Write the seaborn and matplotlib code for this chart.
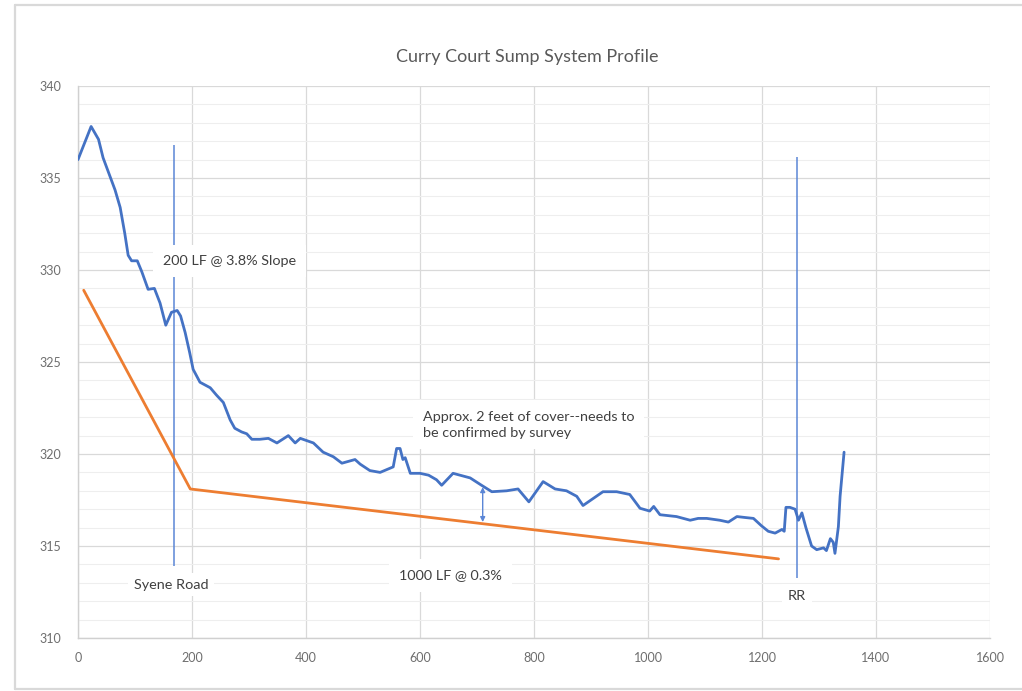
import matplotlib
matplotlib.use("Agg")
import matplotlib.pyplot as plt
from matplotlib.lines import Line2D
import numpy as np
import pandas as pd
import seaborn as sns

# Ground profile along the alignment (station in feet, elevation in feet)
station = [0, 23, 36, 44, 65, 74, 82, 88, 94, 104, 112, 123, 134, 144, 154, 164, 174, 180,
           188, 196, 202, 214, 232, 243, 255, 267, 275, 287, 296, 305, 319, 334, 349, 369,
           381, 390, 413, 430, 448, 463, 486, 495, 512, 530, 553, 559, 565, 570, 574, 583,
           600, 615, 629, 638, 658, 688, 708, 726, 752, 772, 791, 816, 837, 857, 875, 886,
           921, 945, 968, 986, 1003, 1010, 1021, 1050, 1074, 1088, 1103, 1126, 1141, 1156,
           1170, 1185, 1199, 1211, 1223, 1235, 1239, 1242, 1249, 1258, 1264, 1270, 1277,
           1287, 1296, 1308, 1313, 1320, 1325, 1328, 1334, 1337, 1344]
ground = [336.0, 337.8, 337.1, 336.1, 334.35, 333.4, 332.0, 330.8, 330.5, 330.5, 329.9,
          328.95, 329.0, 328.2, 327.0, 327.7, 327.8, 327.5, 326.6, 325.5, 324.6, 323.9,
          323.6, 323.2, 322.8, 321.85, 321.4, 321.2, 321.1, 320.8, 320.8, 320.85, 320.6,
          321.0, 320.6, 320.85, 320.6, 320.1, 319.85, 319.5, 319.7, 319.45, 319.1, 319.0,
          319.3, 320.3, 320.3, 319.7, 319.8, 318.95, 318.95, 318.85, 318.6, 318.3, 318.95,
          318.7, 318.3, 317.95, 318.0, 318.1, 317.4, 318.5, 318.1, 318.0, 317.7, 317.2,
          317.95, 317.95, 317.8, 317.05, 316.9, 317.15, 316.7, 316.6, 316.4, 316.5, 316.5,
          316.4, 316.3, 316.6, 316.55, 316.5, 316.1, 315.8, 315.7, 315.9, 315.8, 317.1,
          317.1, 317.0, 316.4, 316.8, 316.0, 315.0, 314.8, 314.9, 314.75, 315.4, 315.2,
          314.6, 316.05, 317.7, 320.1]

# Proposed pipe invert
pipe_station = [10, 197, 1229]
pipe_elev = [328.9, 318.1, 314.3]

# Crossing markers (Syene Road, railroad)
marker_station = [168, 1261]
marker_top = [336.8, 336.15]
marker_bottom = [313.9, 313.25]
marker_labels = ["Syene Road", "RR"]
marker_label_elev = [312.9, 312.3]
marker_label_station = [163, 1261]

# Cover dimension arrow
cover_station = 710
cover_top = 318.2
cover_bottom = 316.3

x_ticks = [0, 200, 400, 600, 800, 1000, 1200, 1400, 1600]
y_ticks = [310, 315, 320, 325, 330, 335, 340]

BLUE = "#4472C4"
MARKER_BLUE = "#5b86d6"
ORANGE = "#ED7D31"
TXT = "#404040"
TICK = "#6e6e6e"

sns.set_theme(style="white")
plt.rcParams["font.family"] = ["Lato", "DejaVu Sans"]

fig = plt.figure(figsize=(10.22, 6.91), dpi=100)
ax = fig.add_axes([78 / 1022, 1 - 638 / 691, (990 - 78) / 1022, (638 - 86) / 691])

profile = pd.DataFrame({"station": station, "elev": ground})
pipe = pd.DataFrame({"station": pipe_station, "elev": pipe_elev})

sns.lineplot(data=profile, x="station", y="elev", ax=ax, color=BLUE, lw=2.0,
             sort=False, zorder=4)
sns.lineplot(data=pipe, x="station", y="elev", ax=ax, color=ORANGE, lw=2.0,
             sort=False, zorder=4)

for xs, yt, yb in zip(marker_station, marker_top, marker_bottom):
    ax.vlines(xs, yb, yt, color=MARKER_BLUE, lw=1.1, zorder=3)

ax.annotate("", xy=(cover_station, cover_bottom), xytext=(cover_station, cover_top),
            arrowprops=dict(arrowstyle="<|-|>", color=MARKER_BLUE, lw=1.0,
                            mutation_scale=7, shrinkA=0, shrinkB=0), zorder=5)

box = dict(boxstyle="square,pad=0.7", fc="white", ec="none")
ax.text(266, 330.5, "200 LF @ 3.8% Slope", ha="center", va="center", fontsize=10.4,
        color=TXT, bbox=box, zorder=6)
ax.text(605, 321.6, "Approx. 2 feet of cover--needs to\nbe confirmed by survey",
        ha="left", va="center", fontsize=10.4, color=TXT, linespacing=1.4,
        bbox=box, zorder=6)
ax.text(654, 313.4, "1000 LF @ 0.3%", ha="center", va="center", fontsize=10.4,
        color=TXT, bbox=box, zorder=6)
for xs, ys, lab in zip(marker_label_station, marker_label_elev, marker_labels):
    ax.text(xs, ys, lab, ha="center", va="center", fontsize=10.4, color=TXT,
            bbox=dict(boxstyle="square,pad=0.4", fc="white", ec="none"), zorder=6)

ax.set_xlim(0, 1600)
ax.set_ylim(310, 340)
ax.set_xticks(x_ticks)
ax.set_yticks(y_ticks)
ax.set_yticks(np.arange(310, 341, 1), minor=True)
ax.set_xlabel("")
ax.set_ylabel("")
ax.grid(which="major", color="#d9d9d9", lw=0.9, zorder=0)
ax.grid(which="minor", axis="y", color="#eeeeee", lw=0.8, zorder=0)
ax.set_axisbelow(True)
ax.tick_params(axis="both", which="both", length=0, labelsize=9, labelcolor=TICK)
ax.tick_params(axis="y", pad=12)
ax.tick_params(axis="x", pad=10)
for side in ["top", "right"]:
    ax.spines[side].set_visible(False)
for side in ["left", "bottom"]:
    ax.spines[side].set_color("#d0d0d0")
    ax.spines[side].set_linewidth(1.0)

fig.text(527 / 1022, 1 - 57 / 691, "Curry Court Sump System Profile", ha="center",
         va="center", fontsize=13, color="#595959")

# Outer chart frame
frame_kw = dict(color="#d9d9d9", lw=1.6, transform=fig.transFigure)
fig.add_artist(Line2D([15 / 1022, 15 / 1022], [1 - 689 / 691, 1 - 5 / 691], **frame_kw))
fig.add_artist(Line2D([15 / 1022, 1.0], [1 - 5 / 691, 1 - 5 / 691], **frame_kw))
fig.add_artist(Line2D([15 / 1022, 1.0], [1 - 689 / 691, 1 - 689 / 691], **frame_kw))

fig.savefig("out.png", dpi=100, facecolor="white")
